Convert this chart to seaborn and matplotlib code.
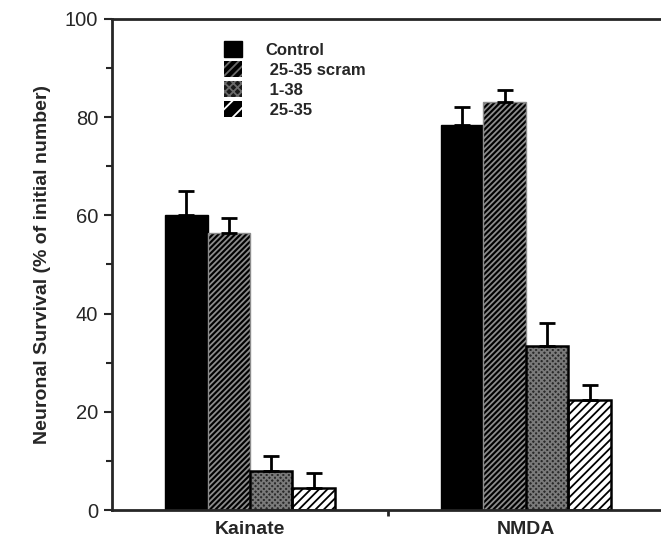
import numpy as np
import pandas as pd
import seaborn as sns
import matplotlib.pyplot as plt
from matplotlib.patches import Rectangle

conditions = ["Kainate", "NMDA"]
treatments = ["Control", " 25-35 scram", " 1-38", " 25-35"]
survival_kainate = [60.0, 56.5, 8.0, 4.5]
survival_nmda = [78.5, 83.0, 33.5, 22.5]
sem_kainate = [5.0, 3.0, 3.0, 3.0]
sem_nmda = [3.5, 2.5, 4.5, 3.0]

df = pd.DataFrame({
    "condition": np.repeat(conditions, len(treatments)),
    "treatment": treatments * len(conditions),
    "survival": survival_kainate + survival_nmda,
    "sem": sem_kainate + sem_nmda,
})

sns.set_style("ticks")
plt.rcParams["font.family"] = ["Liberation Sans", "DejaVu Sans"]
plt.rcParams["hatch.linewidth"] = 1.3

fig = plt.figure(figsize=(6.61, 5.44), dpi=100)
ax = fig.add_axes([0.1694, 0.0625, 0.835, 0.9026])

palette = ["black", "black", "#2a2a2a", "white"]
sns.barplot(data=df, x="condition", y="survival", hue="treatment", order=conditions,
            hue_order=treatments, palette=palette, width=0.615, errorbar=None,
            saturation=1, ax=ax, legend=False)

# hatch styles: (hatch, hatch colour, draw black outline)
styles = [(None, "black", False), ("//////", "#8c8c8c", False),
          ("xxxxxx", "#7a7a7a", True), ("////", "black", True)]
for container, (hatch, hcol, outline) in zip(ax.containers, styles):
    for bar in container.patches:
        bar.set_edgecolor(hcol)
        bar.set_linewidth(0 if outline else 1)
        if hatch:
            bar.set_hatch(hatch)
        if outline:
            ax.add_patch(Rectangle(bar.get_xy(), bar.get_width(), bar.get_height(),
                                   fill=False, edgecolor="black", linewidth=1.8, zorder=bar.get_zorder() + 0.1))

# upper error bars only
for container, t in zip(ax.containers, treatments):
    sub = df[df["treatment"] == t].set_index("condition").loc[conditions]
    xs = [b.get_x() + b.get_width() / 2 for b in container.patches]
    ax.errorbar(xs, sub["survival"], yerr=[np.zeros(len(xs)), sub["sem"]], fmt="none",
                ecolor="black", elinewidth=2, capsize=6, capthick=2, zorder=1)

ax.set_ylim(0, 100)
ax.set_xlim(-0.5, 1.5)
ax.set_yticks([0, 20, 40, 60, 80, 100])
ax.set_yticks([10, 30, 50, 70, 90], minor=True)
ax.set_xticks([0, 1])
ax.set_xticklabels(conditions, fontsize=14, fontweight="bold")
ax.set_xticks([0.5], minor=True)
ax.tick_params(axis="x", which="major", length=0, pad=8)
ax.tick_params(axis="x", which="minor", length=4, width=2)
ax.tick_params(axis="y", which="major", labelsize=14.5, length=6, width=1.5, pad=4)
ax.tick_params(axis="y", which="minor", length=4, width=1.5)
ax.set_xlabel("")
ax.set_ylabel("Neuronal Survival (% of initial number)", fontsize=14, fontweight="bold", labelpad=10)

for side in ["left", "bottom", "top"]:
    ax.spines[side].set_linewidth(2)
ax.spines["right"].set_visible(False)

# legend boxes: black frame around each pattern
legend_handles = [
    Rectangle((0, 0), 1, 1, facecolor="black", edgecolor="black"),
    Rectangle((0, 0), 1, 1, facecolor="black", edgecolor="#6a6a6a", hatch="////", linewidth=0),
    Rectangle((0, 0), 1, 1, facecolor="#1a1a1a", edgecolor="#6a6a6a", hatch="xxxx", linewidth=0),
    Rectangle((0, 0), 1, 1, facecolor="black", edgecolor="white", hatch="//", linewidth=0),
]
ax.legend(legend_handles, treatments, loc="upper left", bbox_to_anchor=(0.19, 0.968), frameon=False,
          prop={"size": 12, "weight": "bold"}, handlelength=1.1, handleheight=1.1,
          labelspacing=0.2, handletextpad=1.4, borderaxespad=0)

plt.savefig("out.png", dpi=100)
